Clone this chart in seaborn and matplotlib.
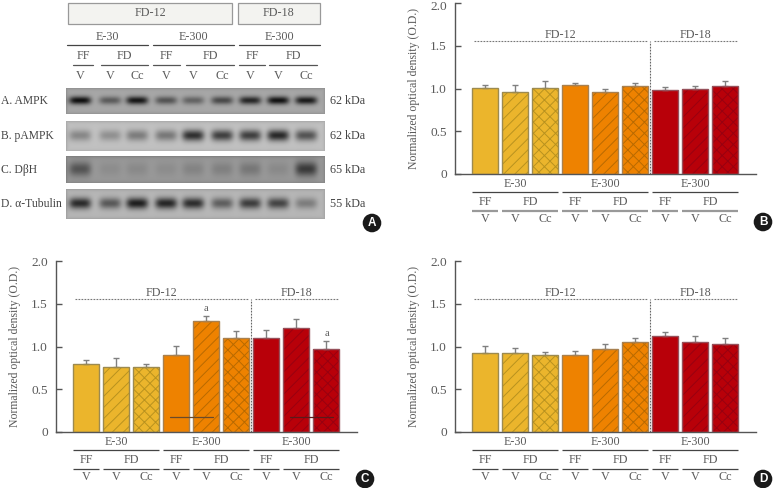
import numpy as np
import pandas as pd
import matplotlib
matplotlib.use("Agg")
import matplotlib.pyplot as plt
from matplotlib.transforms import ScaledTranslation
import seaborn as sns

sns.set_style("ticks")
plt.rcParams["font.family"] = ["Liberation Serif", "DejaVu Serif"]
plt.rcParams["hatch.linewidth"] = 0.7

W, H = 773, 488
TXT = "#5a5a5a"
LINE = "#555555"
FS = 8.7

# bar data
lanes = ["E30-FF-V", "E30-FD-V", "E30-FD-Cc",
         "E300-FF-V", "E300-FD-V", "E300-FD-Cc",
         "F18-FF-V", "F18-FD-V", "F18-FD-Cc"]
lane_labels = ["V", "V", "Cc", "V", "V", "Cc", "V", "V", "Cc"]

b_values = [1.01, 0.96, 1.01, 1.04, 0.96, 1.03, 0.98, 0.99, 1.03]
b_errors = [0.03, 0.08, 0.075, 0.025, 0.03, 0.035, 0.035, 0.045, 0.06]
c_values = [0.80, 0.755, 0.765, 0.90, 1.30, 1.105, 1.10, 1.22, 0.965]
c_errors = [0.04, 0.105, 0.03, 0.108, 0.054, 0.075, 0.09, 0.107, 0.097]
d_values = [0.92, 0.925, 0.905, 0.895, 0.965, 1.047, 1.12, 1.058, 1.027]
d_errors = [0.084, 0.055, 0.033, 0.05, 0.062, 0.05, 0.055, 0.062, 0.078]

bar_colors = ["#EBB52C"] * 3 + ["#EE8200"] * 3 + ["#B80009"] * 3
hatch_colors = ["#B8921F"] * 3 + ["#B86A00"] * 3 + ["#980010"] * 3
edge_colors = ["#9C8A50"] * 3 + ["#A88050"] * 3 + ["#96505A"] * 3
hatches = ["", "///", "xxx"] * 3

# western blot, band darkness per lane (0-1)
blot_rows = ["A. AMPK", "B. pAMPK", "C. D\u03b2H", "D. \u03b1-Tubulin"]
blot_kda = ["62 kDa", "62 kDa", "65 kDa", "55 kDa"]
ampk = [1.0, 0.50, 0.95, 0.55, 0.45, 0.62, 0.85, 0.98, 0.92]
pampk = [0.38, 0.32, 0.45, 0.48, 0.95, 0.85, 0.85, 1.0, 0.72]
dbh = [0.45, 0.08, 0.10, 0.08, 0.14, 0.16, 0.22, 0.10, 0.62]
tubulin = [0.92, 0.62, 1.0, 0.95, 0.90, 0.58, 0.80, 0.75, 0.38]
blot_bands = [ampk, pampk, dbh, tubulin]
blot_bg = [0.66, 0.76, 0.60, 0.72]
blot_sy = [4.0, 5.5, 7.0, 5.5]
blot_tops = [88, 120.7, 156.7, 189.3]
blot_bots = [114, 150.7, 183.3, 219]
lane_px = [80, 110, 137, 166, 193, 222, 250, 278, 306]


def px_axes(x0, y0, x1, y1):
    return fig.add_axes([x0 / W, 1 - y1 / H, (x1 - x0) / W, (y1 - y0) / H])


def bar_panel(x0, y0, values, errors, thick_lower=False):
    ax = px_axes(x0, y0, x0 + 300.5, y0 + 171)
    df = pd.DataFrame({"lane": lanes, "value": values})
    sns.barplot(data=df, x="lane", y="value", hue="lane", order=lanes, hue_order=lanes,
                palette=bar_colors, saturation=1, width=0.867, legend=False, ax=ax)
    for i, patch in enumerate(ax.patches):
        patch.set_hatch(hatches[i])
        patch.set_edgecolor(hatch_colors[i])
        patch.set_linewidth(0)
        # outline drawn apart so the hatch keeps its own colour
        ax.add_patch(plt.Rectangle(patch.get_xy(), patch.get_width(), patch.get_height(),
                                   fill=False, ec=edge_colors[i], lw=1.0, zorder=3))
    ax.errorbar(range(9), values, yerr=[[0] * 9, errors], fmt="none", ecolor="#808080",
                elinewidth=1, capsize=2.2, capthick=1, zorder=2)

    ax.set_xlim(-1, 9)
    ax.set_ylim(0, 2)
    ax.set_yticks([0, 0.5, 1, 1.5, 2])
    ax.set_yticklabels(["0", "0.5", "1.0", "1.5", "2.0"], fontsize=9.6, color=TXT)
    ax.tick_params(axis="y", direction="in", length=4, width=1, color=LINE, pad=6)
    ax.tick_params(axis="x", length=0, labelbottom=False)
    ax.set_xlabel("")
    ax.set_ylabel("Normalized optical density (O.D.)", fontsize=8.5, color=TXT, labelpad=7)
    sns.despine(ax=ax)
    for s in ["left", "bottom"]:
        ax.spines[s].set_color(LINE)
        ax.spines[s].set_linewidth(1)

    # FD-12 / FD-18 dashed separators
    dots = (0, (1.6, 1.1))
    ax.plot([-0.38, 5.41], [1.55, 1.55], ls=dots, color="#777777", lw=0.8)
    ax.plot([5.63, 8.4], [1.55, 1.55], ls=dots, color="#777777", lw=0.8)
    ax.plot([5.5, 5.5], [0, 1.55], ls=dots, color="#666666", lw=0.8, zorder=4)
    ax.text(2.5, 1.63, "FD-12", ha="center", va="center", fontsize=FS, color=TXT)
    ax.text(7, 1.63, "FD-18", ha="center", va="center", fontsize=FS, color=TXT)

    # group labels under the axis, y given in pixels below the baseline
    tr = ax.get_xaxis_transform()
    half = 0.433

    def under(d):
        return -d / 171

    for start, name in zip([0, 3, 6], ["E-30", "E-300", "E-300"]):
        ax.text(start + 1, under(10), name, transform=tr, ha="center", va="center",
                fontsize=FS, color=TXT, clip_on=False)
        ax.plot([start - half, start + 2 + half], [under(17.7)] * 2, transform=tr,
                color="#444444", lw=0.9, clip_on=False, solid_capstyle="butt")
        ax.text(start, under(28), "FF", transform=tr, ha="center", va="center",
                fontsize=FS, color=TXT, clip_on=False)
        ax.text(start + 1.5, under(28), "FD", transform=tr, ha="center", va="center",
                fontsize=FS, color=TXT, clip_on=False)
        low_c, low_w = ("#999999", 1.6) if thick_lower else ("#444444", 0.9)
        ax.plot([start - half, start + half], [under(36.7)] * 2, transform=tr,
                color=low_c, lw=low_w, clip_on=False, solid_capstyle="butt")
        ax.plot([start + 1 - half, start + 2 + half], [under(36.7)] * 2, transform=tr,
                color=low_c, lw=low_w, clip_on=False, solid_capstyle="butt")
    for i, lab in enumerate(lane_labels):
        ax.text(i, under(45), lab, transform=tr, ha="center", va="center",
                fontsize=FS, color=TXT, clip_on=False)
    return ax


def blot_image(bands, bg, sy, height):
    # build the blot from band darkness values
    ny, nx = int(height * 3), 259 * 3
    yy, xx = np.mgrid[0:ny, 0:nx]
    xx = xx / 3 + 66
    yy = yy / 3
    img = np.full((ny, nx), bg, dtype=float)
    for lane_x, dark in zip(lane_px, bands):
        img -= dark * 0.60 * np.exp(-((xx - lane_x) / 11) ** 4) * np.exp(-((yy - height * 0.47) / sy) ** 2)
    edge = np.minimum.reduce([yy, height - yy, xx - 66, 325 - xx])
    img -= 0.10 * np.exp(-edge / 1.5)
    return np.clip(img, 0, 1)


fig = plt.figure(figsize=(W / 100, H / 100), dpi=100)

# panel A drawn on a full-figure axes in pixel units
a = fig.add_axes([0, 0, 1, 1], zorder=-1)
for k in range(4):
    a.imshow(blot_image(blot_bands[k], blot_bg[k], blot_sy[k], blot_bots[k] - blot_tops[k]),
             cmap="gray", vmin=0, vmax=1, aspect="auto", interpolation="bilinear",
             extent=[66, 325, blot_bots[k], blot_tops[k]])
    mid = (blot_tops[k] + blot_bots[k]) / 2
    a.text(1, mid, blot_rows[k], ha="left", va="center", fontsize=8.4, color="#444444")
    a.text(330.5, mid, blot_kda[k], ha="left", va="center", fontsize=8.7, color="#444444")
a.set_xlim(0, W)
a.set_ylim(H, 0)
a.axis("off")

for x0, x1, name in [(68, 232, "FD-12"), (238, 320, "FD-18")]:
    a.add_patch(plt.Rectangle((x0, 2.7), x1 - x0, 21.5, fc="#F3F3F0", ec="#999999", lw=0.9))
    a.text((x0 + x1) / 2, 13.5, name, ha="center", va="center", fontsize=FS, color=TXT)
for x0, x1, name in [(66.7, 147.7, "E-30"), (152.7, 234, "E-300"), (238.7, 320, "E-300")]:
    a.plot([x0, x1], [45.3, 45.3], color="#444444", lw=0.9)
    a.text((x0 + x1) / 2, 36.5, name, ha="center", va="center", fontsize=FS, color=TXT)
for x0, x1, name in [(72.7, 93.3, "FF"), (101, 147.7, "FD"), (152.7, 180, "FF"),
                     (186, 234, "FD"), (238.7, 265.3, "FF"), (269.3, 316.7, "FD")]:
    a.plot([x0, x1], [65, 65], color="#555555", lw=0.9)
    a.text((x0 + x1) / 2, 56, name, ha="center", va="center", fontsize=FS, color=TXT)
for lane_x, lab in zip(lane_px, lane_labels):
    a.text(lane_x, 75.7, lab, ha="center", va="center", fontsize=FS, color=TXT)

ax_b = bar_panel(455, 3, b_values, b_errors, thick_lower=True)
ax_c = bar_panel(56, 261, c_values, c_errors)
ax_d = bar_panel(455, 261, d_values, d_errors)

# top tick label of panel B sits against the edge of the figure
top_label = ax_b.get_yticklabels()[-1]
top_label.set_transform(top_label.get_transform() + ScaledTranslation(0, -2 / 72, fig.dpi_scale_trans))

# extras on panel C
ax_c.plot([2.8, 4.21], [0.17, 0.17], color="#6a4a2a", lw=0.9, zorder=5)
ax_c.plot([6.8, 8.23], [0.17, 0.17], color="#5a1a1a", lw=0.9, zorder=5)
ax_c.text(4, 1.44, "a", ha="center", va="center", fontsize=7.5, color=TXT)
ax_c.text(8, 1.15, "a", ha="center", va="center", fontsize=7.5, color=TXT)

# panel badges
for x, y, letter in [(372, 223, "A"), (763, 222, "B"), (365, 479, "C"), (763, 479, "D")]:
    fig.text(x / W, 1 - y / H, letter, ha="center", va="center", color="white",
             fontsize=8.5, fontweight="bold", family="Liberation Sans",
             bbox=dict(boxstyle="circle,pad=0.28", fc="#1a1a1a", ec="none"))

fig.savefig("out.png", dpi=100)
